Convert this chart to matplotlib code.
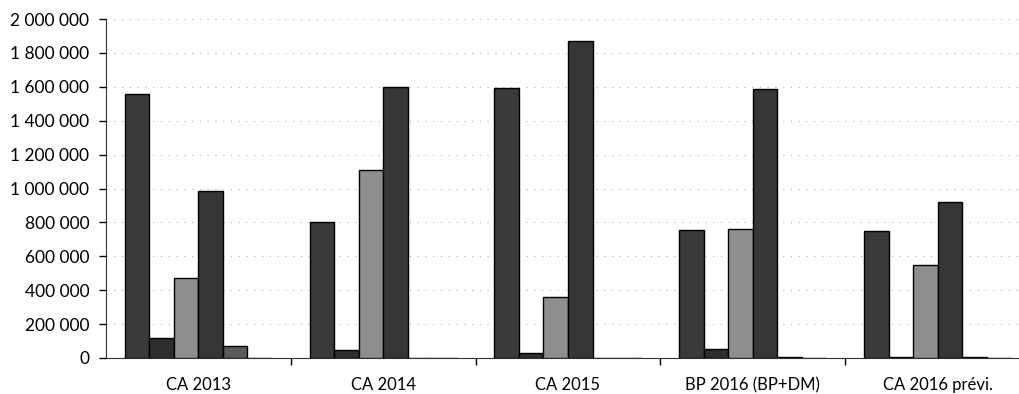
import matplotlib.pyplot as plt
import numpy as np
from matplotlib.ticker import FuncFormatter, FixedLocator

categories = ['CA 2013', 'CA 2014', 'CA 2015', 'BP 2016 (BP+DM)', 'CA 2016 prévi.']

# six séries par catégorie (la dernière est vide)
serie1 = [1555000, 802000, 1591000, 755000, 751000]
serie2 = [118000, 45000, 31000, 53000, 5000]
serie3 = [472000, 1109000, 360000, 759000, 549000]
serie4 = [987000, 1597000, 1872000, 1585000, 918000]
serie5 = [71000, 0, 0, 3000, 3000]
serie6 = [0, 0, 0, 0, 0]

series = [serie1, serie2, serie3, serie4, serie5, serie6]
couleurs = ['#3a3a3a', '#2e2e2e', '#8e8e8e', '#363636', '#5a5a5a', '#444444']

plt.rcParams['font.family'] = ['Lato', 'DejaVu Sans']

fig = plt.figure(figsize=(10.2, 3.94), dpi=100)
ax = fig.add_axes([106 / 1020, 36 / 394, 924 / 1020, 339 / 394])

x = np.arange(len(categories))
w = 0.1327
for j, s in enumerate(series):
    ax.bar(x + (j - 2.5) * w, s, width=w, color=couleurs[j],
           edgecolor='black', linewidth=1.0, zorder=3)

ax.set_xlim(-0.5, len(categories) - 0.5)
ax.set_ylim(0, 2000000)
ax.set_yticks(range(0, 2000001, 200000))
ax.yaxis.set_major_formatter(FuncFormatter(lambda v, p: '{:,.0f}'.format(v).replace(',', ' ')))

ax.set_xticks(x)
ax.set_xticklabels(categories, fontsize=12)
ax.xaxis.set_minor_locator(FixedLocator(x[:-1] + 0.5))
ax.tick_params(axis='x', which='major', length=0, pad=14)
ax.tick_params(axis='x', which='minor', length=5, width=1, direction='out')
ax.tick_params(axis='y', length=5, width=1, direction='out', labelsize=12.5, pad=7)

ax.grid(axis='y', color='#b0b0b0', linestyle=(0, (1, 6)), linewidth=0.8, zorder=0)

for side in ['top', 'right']:
    ax.spines[side].set_visible(False)
ax.spines['left'].set_color('#333333')
ax.spines['bottom'].set_color('#333333')

plt.savefig('out.png', dpi=100)
